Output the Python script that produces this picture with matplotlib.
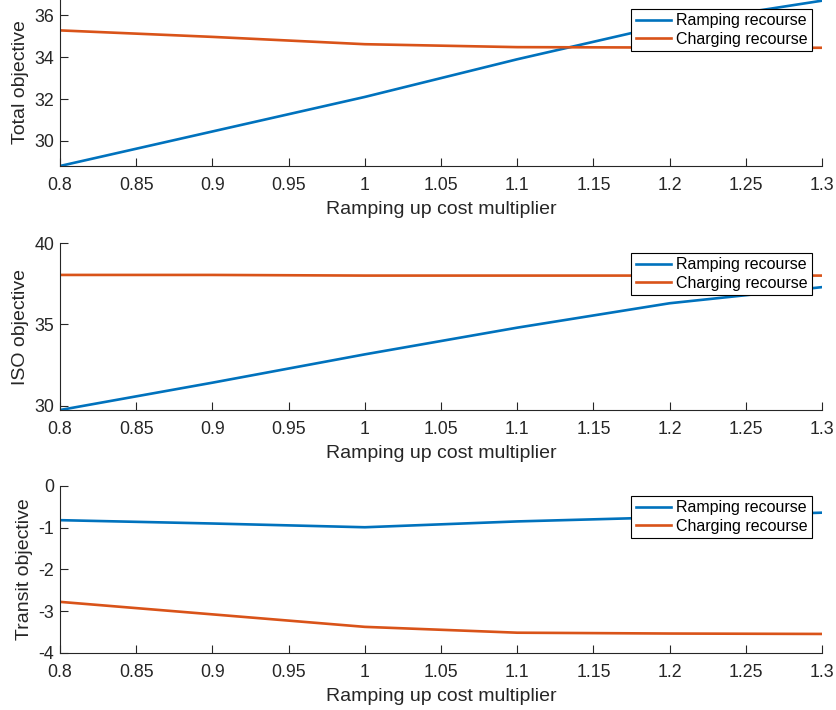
#Load modules
import matplotlib.pyplot as plt

# Sensitivity results vs. ramping up cost multiplier
multiplier = [0.8, 0.9, 1.0, 1.1, 1.2, 1.3]

total_ramping = [28.80, 30.45, 32.10, 33.90, 35.57, 36.70]
total_charging = [35.28, 34.97, 34.62, 34.48, 34.46, 34.45]

iso_ramping = [29.74, 31.42, 33.16, 34.80, 36.30, 37.29]
iso_charging = [38.04, 38.04, 38.00, 38.00, 38.00, 38.00]

transit_ramping = [-0.82, -0.90, -0.99, -0.85, -0.75, -0.64]
transit_charging = [-2.78, -3.08, -3.38, -3.52, -3.54, -3.55]

xtick_vals = [0.8, 0.85, 0.9, 0.95, 1.0, 1.05, 1.1, 1.15, 1.2, 1.25, 1.3]
xtick_labels = ['0.8', '0.85', '0.9', '0.95', '1', '1.05', '1.1', '1.15', '1.2', '1.25', '1.3']

series_labels = ['Ramping recourse', 'Charging recourse']
colors = ['#0072BD', '#D95319']
axis_grey = '#262626'

plt.rcParams['font.family'] = ['Liberation Sans', 'DejaVu Sans']
plt.rcParams['axes.unicode_minus'] = False


def objective_panel(ax, ramping, charging, ylabel, ylim, yticks):
    ax.plot(multiplier, ramping, color=colors[0], linewidth=1.9, label=series_labels[0])
    ax.plot(multiplier, charging, color=colors[1], linewidth=1.9, label=series_labels[1])
    ax.set_xlim(0.8, 1.3)
    ax.set_ylim(ylim)
    ax.set_xticks(xtick_vals)
    ax.set_xticklabels(xtick_labels)
    ax.set_yticks(yticks)
    ax.set_xlabel('Ramping up cost multiplier', fontsize=14, color=axis_grey, labelpad=5)
    ax.set_ylabel(ylabel, fontsize=14, color=axis_grey, labelpad=4)
    # box off, ticks inside like the default figure style
    ax.spines['top'].set_visible(False)
    ax.spines['right'].set_visible(False)
    for side in ['left', 'bottom']:
        ax.spines[side].set_color(axis_grey)
        ax.spines[side].set_linewidth(0.8)
    ax.tick_params(direction='in', length=5.5, width=0.8, colors=axis_grey,
                   labelsize=12.8)
    ax.tick_params(axis='x', pad=8)
    ax.tick_params(axis='y', pad=4)
    leg = ax.legend(loc='upper right', fontsize=11.5, frameon=True, fancybox=False,
                    edgecolor='black', framealpha=1, borderpad=0.3, labelspacing=0.2,
                    handlelength=2.2, handletextpad=0.3, borderaxespad=0.6)
    leg.get_frame().set_linewidth(0.8)
    return


fig = plt.figure(figsize=(8.37, 7.10), dpi=100)
ax1 = fig.add_axes([0.0717, 0.7662, 0.9104, 0.2352])
ax2 = fig.add_axes([0.0717, 0.4225, 0.9104, 0.2352])
ax3 = fig.add_axes([0.0717, 0.0807, 0.9104, 0.2348])

objective_panel(ax1, total_ramping, total_charging, 'Total objective',
                (28.8, 36.78), [30, 32, 34, 36])
objective_panel(ax2, iso_ramping, iso_charging, 'ISO objective',
                (29.74, 40), [30, 35, 40])
objective_panel(ax3, transit_ramping, transit_charging, 'Transit objective',
                (-4, 0), [-4, -3, -2, -1, 0])

plt.savefig('out.png', dpi=100)
plt.close()
